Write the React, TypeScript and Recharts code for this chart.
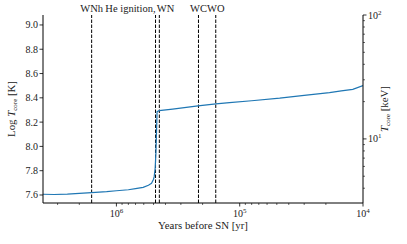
import { CartesianGrid, Line, LineChart, ReferenceLine, XAxis, YAxis } from 'recharts'

// core temperature track
const YEARS_BEFORE_SN = [
  3.94e6, 3.2e6, 2.5e6, 2e6, 1.59e6, 1.2e6, 1e6, 8e5, 7e5, 6.07e5, 5.5e5, 5.19e5, 5e5, 4.94e5,
  4.85e5, 4.78e5, 4.72e5, 4.68e5, 4.5e5, 3.5e5, 2.18e5, 1.56e5, 1.21e5, 8e4, 4.74e4, 3e4,
  1.87e4, 1.5e4, 1.21e4, 1e4,
]
const LOG_T_CORE = [
  7.606, 7.604, 7.607, 7.613, 7.62, 7.628, 7.635, 7.643, 7.652, 7.663, 7.68, 7.696, 7.73, 7.751,
  7.82, 7.95, 8.15, 8.286, 8.294, 8.307, 8.333, 8.35, 8.36, 8.376, 8.397, 8.42,
  8.443, 8.457, 8.47, 8.5,
]

const PHASE_NAMES = ['WNh', 'He ignition,', 'WN', 'WC', 'WO']
const PHASE_YEARS = [1.588e6, 4.816e5, 4.486e5, 2.16e5, 1.564e5]
const PHASE_ANCHORS = ['middle', 'end', 'start', 'middle', 'middle']

const X_TICKS = [
  1e4, 2e4, 3e4, 4e4, 5e4, 6e4, 7e4, 8e4, 9e4,
  1e5, 2e5, 3e5, 4e5, 5e5, 6e5, 7e5, 8e5, 9e5,
  1e6, 2e6, 3e6,
]
const LEFT_TICKS = [7.6, 7.8, 8.0, 8.2, 8.4, 8.6, 8.8, 9.0]
const KEV_TICKS = [4, 5, 6, 7, 8, 9, 10, 20, 30, 40, 50, 60, 70, 80, 90, 100]

const FONT = '"Liberation Serif", "DejaVu Serif", serif'
const TXT = '#222'

const data = YEARS_BEFORE_SN.map((years, i) => ({ years, logT: LOG_T_CORE[i] }))

const isDecade = (v: number) => Math.abs(Math.log10(v) - Math.round(Math.log10(v))) < 1e-6

function XTick({ x, y, payload }: any) {
  const v = payload.value
  const major = isDecade(v)
  return (
    <g>
      <line x1={x} x2={x} y1={y} y2={y + (major ? 3.5 : 2)} stroke="#000" strokeWidth={major ? 0.8 : 0.6} />
      {major && (
        <text x={x} y={y + 14} textAnchor="middle" fontFamily={FONT} fontSize={10} fill={TXT}>
          10<tspan dy={-4} fontSize={7}>{Math.round(Math.log10(v))}</tspan>
        </text>
      )}
    </g>
  )
}

function LeftTick({ x, y, payload }: any) {
  return (
    <g>
      <line x1={x - 3.5} x2={x} y1={y} y2={y} stroke="#000" strokeWidth={0.8} />
      <text x={x - 5} y={y + 3.5} textAnchor="end" fontFamily={FONT} fontSize={10} fill={TXT}>
        {payload.value.toFixed(1)}
      </text>
    </g>
  )
}

function KevTick({ x, y, payload }: any) {
  const v = payload.value
  const major = isDecade(v)
  return (
    <g>
      <line x1={x} x2={x + (major ? 3.5 : 2)} y1={y} y2={y} stroke="#000" strokeWidth={major ? 0.8 : 0.6} />
      {major && (
        <text x={x + 5} y={y + 3.5} textAnchor="start" fontFamily={FONT} fontSize={10} fill={TXT}>
          10<tspan dy={-4} fontSize={7}>{Math.round(Math.log10(v))}</tspan>
        </text>
      )}
    </g>
  )
}

const phaseLabel = (name: string, anchor: string) => (props: any) => {
  const vb = props.viewBox || {}
  const dx = anchor === 'start' ? -2.5 : 0
  return (
    <text x={vb.x + dx} y={12} textAnchor={anchor} fontFamily={FONT} fontSize={10.5} fill={TXT}>
      {name}
    </text>
  )
}

export default function App() {
  return (
    <div style={{ position: 'absolute', left: 0, top: 0, background: '#fff' }}>
      <LineChart width={407} height={244} data={data} margin={{ top: 15, right: 0, left: 0, bottom: 0 }}>
        <XAxis
          dataKey="years"
          type="number"
          scale="log"
          domain={[1e4, 3.94e6]}
          reversed
          allowDataOverflow
          ticks={X_TICKS}
          interval={0}
          tick={<XTick />}
          tickLine={false}
          tickSize={0}
          tickMargin={0}
          height={41}
          axisLine={{ stroke: '#000', strokeWidth: 1 }}
          label={{
            content: (p: any) => (
              <text x={203} y={229} textAnchor="middle" fontFamily={FONT} fontSize={10.8} fill={TXT}>
                Years before SN [yr]
              </text>
            ),
          }}
        />
        <XAxis
          xAxisId="top"
          orientation="top"
          type="number"
          scale="log"
          domain={[1e4, 3.94e6]}
          reversed
          allowDataOverflow
          height={0}
          tick={false}
          tickLine={false}
          axisLine={{ stroke: '#000', strokeWidth: 1 }}
        />
        <YAxis
          dataKey="logT"
          type="number"
          domain={[7.534, 9.082]}
          allowDataOverflow
          ticks={LEFT_TICKS}
          interval={0}
          tick={<LeftTick />}
          tickLine={false}
          tickSize={0}
          tickMargin={0}
          width={43}
          axisLine={{ stroke: '#000', strokeWidth: 1 }}
          label={{
            content: (p: any) => (
              <text
                x={15}
                y={109}
                transform="rotate(-90 15 109)"
                textAnchor="middle"
                fontFamily={FONT}
                fontSize={10.8}
                fill={TXT}
              >
                Log <tspan fontStyle="italic">T</tspan>
                <tspan fontSize={7} dy={2}>core</tspan>
                <tspan dy={-2}> [K]</tspan>
              </text>
            ),
          }}
        />
        <YAxis
          yAxisId="kev"
          orientation="right"
          type="number"
          scale="log"
          domain={[3.04, 100]}
          allowDataOverflow
          ticks={KEV_TICKS}
          interval={0}
          tick={<KevTick />}
          tickLine={false}
          tickSize={0}
          tickMargin={0}
          width={44}
          axisLine={{ stroke: '#000', strokeWidth: 1 }}
          label={{
            content: (p: any) => (
              <text
                x={388}
                y={109}
                transform="rotate(-90 388 109)"
                textAnchor="middle"
                fontFamily={FONT}
                fontSize={10.8}
                fill={TXT}
              >
                <tspan fontStyle="italic">T</tspan>
                <tspan fontSize={7} dy={2}>core</tspan>
                <tspan dy={-2}> [keV]</tspan>
              </text>
            ),
          }}
        />
        {PHASE_YEARS.map((yr, i) => (
          <ReferenceLine
            key={PHASE_NAMES[i]}
            x={yr}
            stroke="#000"
            strokeWidth={1}
            strokeDasharray="3.5 1.5"
            label={phaseLabel(PHASE_NAMES[i], PHASE_ANCHORS[i])}
          />
        ))}
        <Line
          type="linear"
          dataKey="logT"
          stroke="#1f77b4"
          strokeWidth={1.2}
          dot={false}
          isAnimationActive={false}
        />
      </LineChart>
    </div>
  )
}
